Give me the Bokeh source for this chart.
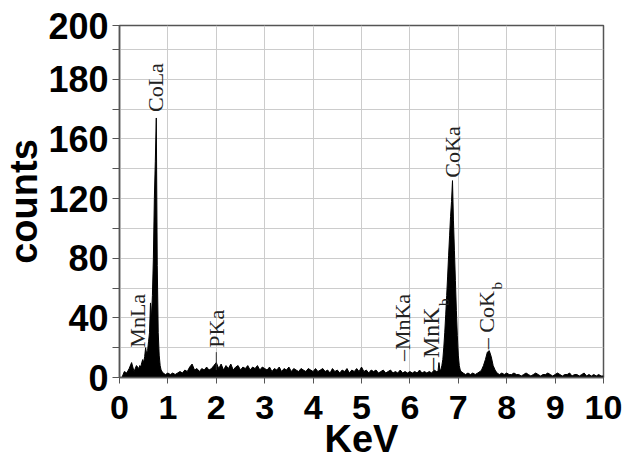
import numpy as np
from bokeh.plotting import figure
from bokeh.models import FixedTicker, Range1d
from bokeh.core.properties import value
from bokeh.embed import file_html
from bokeh.resources import INLINE

# ---- spectrum data (counts per channel) ----
# each segment: start energy (KeV), channel step (KeV), counts
low_start, low_step = 0.05, 0.05
low_counts = [0, 4, 3, 6, 10, 4, 8]

cola_start, cola_step = 0.40, 0.02
cola_counts = [6, 8, 7, 10, 12, 10, 14, 20, 16, 18, 24, 30, 50, 40, 55, 80,
               120, 145, 174, 75, 30, 15, 8, 5, 4]

mid_start, mid_step = 0.90, 0.05
mid_counts = [3, 2, 3, 2, 3, 2, 3, 4, 3, 5,
              4, 7, 9, 5, 6, 4, 6, 5, 7, 5,
              6, 8, 10, 6, 9, 5, 8, 6, 9, 5,
              7, 8, 5, 7, 6, 8, 5, 7, 6, 8,
              5, 7, 6, 5, 7, 4, 6, 5, 7, 4,
              6, 5, 7, 4, 6, 5, 4, 6, 5, 4,
              6, 5, 4, 6, 4, 5, 6, 4, 5, 3,
              6, 4, 5, 3, 5, 4, 6, 3, 5, 4,
              6, 4, 7, 4, 5, 3, 5, 4, 5, 3,
              4, 5, 3, 4, 5, 3, 4, 3, 5, 3,
              4, 3, 4, 3, 4, 3, 5, 3, 4, 3,
              4, 3, 5, 4]

coka_start, coka_step = 6.58, 0.02
coka_counts = [4, 10, 5, 5, 8, 12, 20, 30, 42, 55, 68, 82, 95, 108, 118,
               132, 105, 85, 65, 45, 28, 15, 8, 5, 4]

gap_start, gap_step = 7.10, 0.05
gap_counts = [3, 2, 3, 2, 3, 2, 3, 4]

cokb_start, cokb_step = 7.48, 0.04
cokb_counts = [5, 8, 12, 17, 18, 14, 8, 5]

high_start, high_step = 7.80, 0.05
high_counts = [3, 2, 3, 2, 3, 2, 2, 3, 2, 2,
               1, 2, 3, 2, 1, 2, 3, 2, 1, 2,
               2, 3, 2, 1, 2, 3, 2, 1, 2, 2,
               3, 1, 2, 2, 1, 2, 3, 1, 2, 1,
               2, 1, 2, 1, 1]

# ---- peak labels ----
label_text = ["MnLa", "CoLa", "PKa", "\u2013MnKa", "\u2013MnK", "CoKa", "\u2013 CoK"]
label_kev = [0.37, 0.75, 2.0, 5.85, 6.43, 6.88, 7.58]
label_counts = [20, 178, 20, 11, 5, 134, 19]
label_size = ["22px", "22px", "22px", "22px", "24px", "22px", "22px"]
sub_text = ["b", "b"]
sub_kev = [6.70, 7.79]
sub_counts = [48, 59]
pka_marker_kev = [2.0]
pka_marker_lo = [5]
pka_marker_hi = [17]

# ---- axes ----
x_ticks = [0, 1, 2, 3, 4, 5, 6, 7, 8, 9, 10]
y_ticks = [0, 40, 80, 120, 160, 200, 236]
y_tick_labels = ["0", "40", "80", "120", "160", "180", "200"]
y_minor = [20, 60, 100, 140, 180, 220]

segments = [(low_start, low_step, low_counts), (cola_start, cola_step, cola_counts),
            (mid_start, mid_step, mid_counts), (coka_start, coka_step, coka_counts),
            (gap_start, gap_step, gap_counts), (cokb_start, cokb_step, cokb_counts),
            (high_start, high_step, high_counts)]
kev = np.concatenate([np.round(s + st * np.arange(len(c)), 3) for s, st, c in segments])
cnt = np.concatenate([np.array(c, dtype=float) for _, _, c in segments])

p = figure(width=624, height=462, x_range=Range1d(0, 10), y_range=Range1d(0, 236),
           output_backend="svg", toolbar_location=None,
           min_border_left=119, min_border_right=21, min_border_top=25, min_border_bottom=85)

p.background_fill_color = "white"
p.border_fill_color = "white"
p.outline_line_color = "#555555"
p.outline_line_width = 1.5

p.varea(x=kev, y1=np.zeros_like(cnt), y2=cnt, fill_color="black")
p.line(x=kev, y=cnt, line_color="black", line_width=1)

p.segment(x0=pka_marker_kev, y0=pka_marker_lo, x1=pka_marker_kev, y1=pka_marker_hi,
          line_color="#333333", line_width=1)

p.text(x=label_kev, y=label_counts, text=label_text, angle=np.pi / 2,
       text_align="left", text_baseline="middle", text_color="#222222",
       text_font=value("Liberation Serif"), text_font_size=label_size)
p.text(x=sub_kev, y=sub_counts, text=sub_text, angle=np.pi / 2,
       text_align="left", text_baseline="middle", text_color="#222222",
       text_font=value("Liberation Serif"), text_font_size="15px")

# x axis
p.xaxis.ticker = FixedTicker(ticks=x_ticks)
p.xaxis.axis_label = "KeV"
p.xaxis.axis_label_text_font = "Liberation Sans"
p.xaxis.axis_label_text_font_style = "bold"
p.xaxis.axis_label_text_font_size = "38px"
p.xaxis.axis_label_text_color = "black"
p.xaxis.axis_label_standoff = -4
p.xaxis.major_label_text_font = "Liberation Sans"
p.xaxis.major_label_text_font_style = "bold"
p.xaxis.major_label_text_font_size = "34px"
p.xaxis.major_label_text_color = "black"
p.xaxis.major_label_standoff = 12
p.xaxis.major_tick_out = 6
p.xaxis.major_tick_in = 0
p.xaxis.minor_tick_line_color = None
p.xaxis.axis_line_color = "#555555"
p.xaxis.axis_line_width = 1.5
p.xaxis.major_tick_line_color = "#555555"

# y axis
p.yaxis.ticker = FixedTicker(ticks=y_ticks, minor_ticks=y_minor)
p.yaxis.major_label_overrides = {t: l for t, l in zip(y_ticks, y_tick_labels)}
p.yaxis.axis_label = "counts"
p.yaxis.axis_label_text_font = "Liberation Sans"
p.yaxis.axis_label_text_font_style = "bold"
p.yaxis.axis_label_text_font_size = "38px"
p.yaxis.axis_label_text_color = "black"
p.yaxis.axis_label_standoff = 0
p.yaxis.major_label_text_font = "Liberation Sans"
p.yaxis.major_label_text_font_style = "bold"
p.yaxis.major_label_text_font_size = "36px"
p.yaxis.major_label_text_color = "black"
p.yaxis.major_label_standoff = 4
p.yaxis.major_tick_out = 7
p.yaxis.major_tick_in = 0
p.yaxis.minor_tick_out = 7
p.yaxis.minor_tick_in = 0
p.yaxis.minor_tick_line_color = "#555555"
p.yaxis.axis_line_color = "#555555"
p.yaxis.axis_line_width = 1.5
p.yaxis.major_tick_line_color = "#555555"

# grid
p.xgrid.grid_line_color = "#cccccc"
p.ygrid.grid_line_color = "#cccccc"
p.ygrid.minor_grid_line_color = "#cccccc"

open("out.html", "w").write(file_html(p, INLINE))
